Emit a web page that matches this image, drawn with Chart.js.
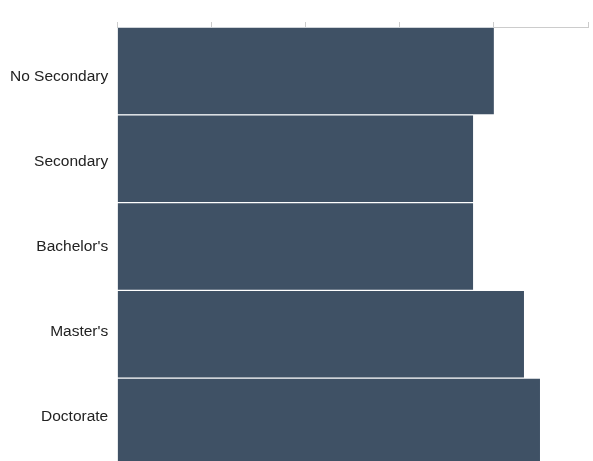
<!DOCTYPE html>
<html>
<head>
<meta charset="utf-8">
<script src="https://cdn.jsdelivr.net/npm/chart.js@4"></script>
<style>
  html, body { margin: 0; padding: 0; background: #fff; overflow: hidden; }
  canvas { display: block; }
</style>
</head>
<body>
<canvas id="myChart" width="593" height="466"></canvas>
<script>
// niveles de estudio y valor de cada barra
const categorias = ["No Secondary", "Secondary", "Bachelor's", "Master's", "Doctorate"];
const valores = [4.0, 3.78, 3.78, 4.32, 4.49];
const colorBarra = "#3f5165";

// rango del eje de etiquetas (las etiquetas van un poco mas juntas que las barras)
const etiquetaMin = -0.588;
const etiquetaMax = 4.576;

// quita el relleno que Chart.js agrega por la mitad de la etiqueta
function sinRelleno(scale) {
    scale.paddingTop = 0;
    scale.paddingBottom = 0;
}

const ctx = document.getElementById("myChart");

new Chart(ctx, {
    type: "bar",
    data: {
        labels: categorias,
        datasets: [{
            data: valores,
            backgroundColor: colorBarra,
            borderColor: "#ffffff",
            borderWidth: { top: 1, bottom: 1, left: 0, right: 0 },
            borderSkipped: false,
            barPercentage: 1,
            categoryPercentage: 1
        }]
    },
    options: {
        indexAxis: "y",
        responsive: false,
        animation: false,
        layout: { padding: { top: 22, right: 5, left: 1, bottom: 0 } },
        plugins: {
            legend: { display: false },
            tooltip: { enabled: false }
        },
        scales: {
            x: {
                position: "top",
                min: 0,
                max: 5,
                ticks: { display: false, stepSize: 1 },
                grid: { drawOnChartArea: false, color: "#cccccc", tickLength: 5 },
                border: { color: "#cccccc" }
            },
            y: { display: false, afterFit: sinRelleno },
            y2: {
                type: "linear",
                position: "left",
                reverse: true,
                offset: false,
                min: etiquetaMin,
                max: etiquetaMax,
                afterFit: sinRelleno,
                afterBuildTicks: (scale) => {
                    scale.ticks = categorias.map((c, i) => ({ value: i }));
                    scale.min = etiquetaMin;
                    scale.max = etiquetaMax;
                },
                grid: { display: false, drawTicks: false, offset: false },
                border: { display: false },
                ticks: {
                    color: "#222222",
                    padding: 9,
                    font: { family: "'Liberation Sans', Arial, sans-serif", size: 15.5 },
                    callback: (v) => categorias[v]
                }
            }
        }
    }
});
</script>
</body>
</html>
